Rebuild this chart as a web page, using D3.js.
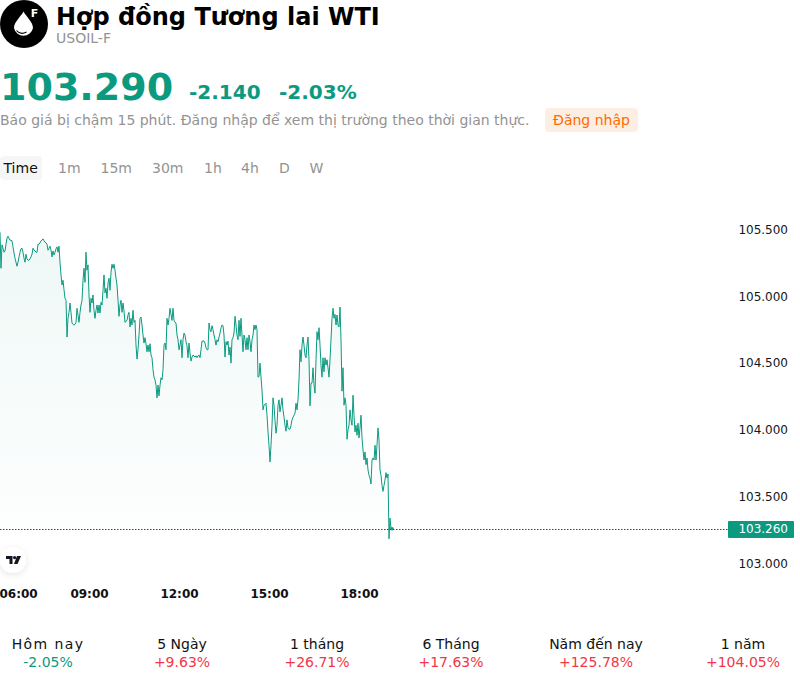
<!DOCTYPE html>
<html lang="vi"><head><meta charset="utf-8">
<style>html,body{margin:0;padding:0;background:#fff}svg{display:block;font-family:"DejaVu Sans",sans-serif}</style>
<script src="https://cdn.jsdelivr.net/npm/d3@7/dist/d3.min.js"></script></head><body>
<script>
const title="Hợp đồng Tương lai WTI", symbol="USOIL-F";
const lastPrice="103.290", changeAbs="-2.140", changePct="-2.03%";
const notice="Báo giá bị chậm 15 phút. Đăng nhập để xem thị trường theo thời gian thực.", loginLabel="Đăng nhập";
const tabs=["Time","1m","15m","30m","1h","4h","D","W"];
const tabX=[3.5,58,100.5,152,204,241,279,309.5];
const priceTicks=[103,103.5,104,104.5,105,105.5];
const timeTicks=[360,540,720,900,1080];
const currentPrice=103.26;
const perfLabels=["Hôm nay","5 Ngày","1 tháng","6 Tháng","Năm đến nay","1 năm"];
const perfValues=["-2.05%","+9.63%","+26.71%","+17.63%","+125.78%","+104.05%"];
const perfCenters=[48,182,317,451,596,743];
const startMinute=362, stepMinutes=2;
const prices=[105.48,105.21,105.385,105.36,105.33,105.34,105.39,105.435,105.45,105.435,105.42,105.42,105.415,105.37,105.325,105.285,105.255,105.225,105.255,105.295,
105.33,105.355,105.36,105.33,105.285,105.255,105.315,105.28,105.27,105.27,105.28,105.295,105.315,105.36,105.345,105.34,105.33,105.33,105.39,105.39,
105.4,105.415,105.42,105.43,105.415,105.405,105.4,105.39,105.345,105.36,105.375,105.345,105.295,105.34,105.31,105.33,105.355,105.37,105.33,105.375,
105.255,105.16,105.085,105.12,105.05,104.985,104.97,104.695,104.835,104.88,104.95,104.88,104.8,104.79,104.785,104.79,104.805,104.91,104.86,104.805,
104.88,104.935,104.97,105.12,105.21,105.105,105.33,105.195,105.235,105.01,104.88,104.985,104.95,105.01,104.895,104.835,104.895,104.935,104.875,104.935,
104.875,104.955,104.935,105.045,105.16,105.025,105.06,104.985,105.1,105.135,105.045,105.18,105.24,105.21,105.24,105.195,105.135,105.085,104.97,104.85,
104.935,104.97,104.88,104.95,104.89,104.805,104.815,104.82,104.86,104.88,104.77,104.835,104.785,104.895,104.805,104.82,104.635,104.53,104.6,104.71,
104.835,104.845,104.785,104.71,104.65,104.69,104.645,104.585,104.635,104.585,104.645,104.56,104.54,104.45,104.395,104.375,104.335,104.24,104.335,104.255,
104.335,104.39,104.375,104.45,104.635,104.65,104.6,104.835,104.785,104.835,104.91,104.865,104.82,104.91,104.82,104.805,104.8,104.71,104.675,104.6,
104.635,104.675,104.54,104.675,104.725,104.71,104.66,104.63,104.54,104.65,104.575,104.515,104.545,104.56,104.555,104.545,104.555,104.54,104.555,104.56,
104.54,104.6,104.665,104.665,104.665,104.65,104.615,104.6,104.6,104.8,104.75,104.735,104.78,104.75,104.71,104.675,104.635,104.675,104.66,104.695,
104.725,104.765,104.785,104.78,104.71,104.545,104.66,104.635,104.665,104.56,104.62,104.5,104.675,104.69,104.725,104.85,104.785,104.71,104.675,104.82,
104.7,104.835,104.71,104.585,104.71,104.675,104.6,104.69,104.6,104.71,104.66,104.585,104.675,104.71,104.785,104.75,104.785,104.75,104.395,104.4,
104.5,104.395,104.3,104.15,104.185,104.19,104.2,104.11,103.985,103.885,103.76,103.885,104.035,104.24,104.185,104.07,103.975,104.035,104.185,104.225,
104.135,104.185,104.24,104.15,104.095,104.035,103.99,104.075,104.015,104.005,104.005,104.035,104.075,104.095,104.11,104.125,104.2,104.15,104.225,104.375,
104.6,104.51,104.635,104.695,104.635,104.56,104.54,104.635,104.695,104.525,104.18,104.35,104.35,104.465,104.335,104.275,104.525,104.735,104.675,104.765,
104.635,104.485,104.395,104.54,104.435,104.54,104.485,104.525,104.465,104.395,104.525,104.675,104.835,104.91,104.835,104.865,104.785,104.86,104.785,104.77,
104.92,104.675,104.29,104.465,104.185,104.24,104.185,103.93,104,104.035,104.15,104.075,104.035,104.26,104.11,103.985,104.035,103.96,104.05,103.94,
104.015,104.11,103.94,103.85,103.775,103.835,103.74,103.79,103.7,103.66,103.64,103.595,103.775,103.79,103.775,103.885,103.775,103.885,104.015,103.925,
103.7,103.66,103.585,103.54,103.585,103.625,103.68,103.64,103.67,103.185,103.34,103.26,103.26];

const FONT='"DejaVu Sans",sans-serif';
const GREEN="#0b9a80", RED="#f23645", GREY="#939393", INK="#131722";
const svg=d3.select("body").append("svg").attr("width",800).attr("height",682);
const x=d3.scaleLinear().domain([360,540]).range([-1,89]);
const y=d3.scaleLinear().domain([103,105.5]).range([563.5,229.5]);
const points=prices.map((p,i)=>({m:startMinute+i*stepMinutes,p}));

// Header
const logo=svg.append("g");
logo.append("circle").attr("cx",24).attr("cy",24).attr("r",24).attr("fill","#000");
logo.append("path").attr("fill","#fff").attr("d","M23.5 11.5C21 16.5 14 22 14 28A9.7 9.7 0 0 0 33 28C33 22 26 16.5 23.5 11.5Z");
logo.append("path").attr("fill","none").attr("stroke","#000").attr("stroke-width",1.1).attr("d","M16.5 30.5C19 33.5 23 34 26.5 32");
logo.append("text").attr("x",34.5).attr("y",17).attr("text-anchor","middle").attr("font-size",11).attr("font-weight",700).attr("fill","#fff").text("F");
svg.append("text").attr("x",56).attr("y",24.5).attr("font-size",24).attr("font-weight",700).attr("fill","#000").text(title);
svg.append("text").attr("x",56).attr("y",43).attr("font-size",14).attr("fill",GREY).text(symbol);
svg.append("text").attr("x",0).attr("y",100).attr("font-size",38).attr("font-weight",700).attr("fill",GREEN).text(lastPrice);
svg.append("text").attr("x",189).attr("y",99).attr("font-size",20).attr("font-weight",700).attr("fill",GREEN).text(changeAbs);
svg.append("text").attr("x",279).attr("y",99).attr("font-size",20).attr("font-weight",700).attr("fill",GREEN).text(changePct);
svg.append("text").attr("x",0).attr("y",125).attr("font-size",14).attr("fill",GREY).text(notice);
svg.append("rect").attr("x",545).attr("y",108).attr("width",93).attr("height",24).attr("rx",4).attr("fill","#fdeee3");
svg.append("text").attr("x",591.5).attr("y",125).attr("text-anchor","middle").attr("font-size",14).attr("fill","#ff6a00").text(loginLabel);

// Interval tabs
svg.append("rect").attr("x",0).attr("y",156).attr("width",42).attr("height",24).attr("rx",4).attr("fill","#f6f6f6");
svg.selectAll("text.tab").data(tabs).join("text").attr("class","tab")
  .attr("x",(d,i)=>tabX[i]).attr("y",173).attr("font-size",14)
  .attr("fill",(d,i)=>i===0?"#111":GREY).text(d=>d);

// Area and line
const grad=svg.append("defs").append("linearGradient").attr("id","fade")
  .attr("gradientUnits","userSpaceOnUse").attr("x1",0).attr("x2",0).attr("y1",y(105.5)).attr("y2",560);
grad.append("stop").attr("offset",0).attr("stop-color",GREEN).attr("stop-opacity",0.07);
grad.append("stop").attr("offset",1).attr("stop-color",GREEN).attr("stop-opacity",0);
svg.append("path").datum(points).attr("fill","url(#fade)")
  .attr("d",d3.area().x(d=>x(d.m)).y0(560).y1(d=>y(d.p)));
svg.append("path").datum(points).attr("fill","none").attr("stroke",GREEN).attr("stroke-width",1)
  .attr("stroke-linejoin","round").attr("d",d3.line().x(d=>x(d.m)).y(d=>y(d.p)));

// Current price line and tag
svg.append("line").attr("x1",0).attr("x2",728).attr("y1",Math.round(y(currentPrice))+.5).attr("y2",Math.round(y(currentPrice))+.5)
  .attr("stroke","#14564a").attr("stroke-width",1).attr("stroke-dasharray","1.5 1.5");
svg.append("circle").attr("cx",x(startMinute+(prices.length-1)*stepMinutes)).attr("cy",y(prices[prices.length-1])).attr("r",1.8).attr("fill",GREEN);
svg.append("rect").attr("x",728).attr("y",Math.round(y(currentPrice))-8).attr("width",66).attr("height",17).attr("rx",1).attr("fill",GREEN);
svg.append("text").attr("x",788).attr("y",y(currentPrice)+4.5).attr("text-anchor","end").attr("font-size",12).attr("fill","#fff").text(currentPrice.toFixed(3));

// Axes
const yAxis=svg.append("g").attr("transform","translate(788,0)")
  .call(d3.axisLeft(y).tickValues(priceTicks).tickSize(0).tickPadding(0).tickFormat(d3.format(".3f")));
yAxis.select(".domain").remove();
yAxis.attr("font-family",FONT).attr("font-size",12);
yAxis.selectAll("text").attr("fill",INK);
const fmt=m=>String(Math.floor(m/60)).padStart(2,"0")+":"+String(m%60).padStart(2,"0");
const xAxis=svg.append("g").attr("transform","translate(0,583)")
  .call(d3.axisBottom(x).tickValues(timeTicks).tickSize(0).tickPadding(6).tickFormat(fmt));
xAxis.select(".domain").remove();
xAxis.attr("font-family",FONT).attr("font-size",12);
xAxis.selectAll("text").attr("font-weight",700).attr("fill","#111");
xAxis.selectAll("text").filter(d=>d===360).attr("text-anchor","start").attr("x",0);

// TradingView badge
const f=svg.select("defs").append("filter").attr("id","soft").attr("x","-50%").attr("y","-50%").attr("width","200%").attr("height","200%");
f.append("feDropShadow").attr("dx",0).attr("dy",2).attr("stdDeviation",3).attr("flood-color","#000").attr("flood-opacity",.1);
svg.append("circle").attr("cx",13).attr("cy",560).attr("r",13).attr("fill","#fff").attr("filter","url(#soft)");
svg.append("path").attr("fill",INK).attr("d","M6 556H12.5V564H9.5V559H6ZM17 556H21L17.5 564H14Z");
svg.append("circle").attr("cx",14.6).attr("cy",557.6).attr("r",1.6).attr("fill",INK);

// Performance row
svg.selectAll("text.pl").data(perfLabels).join("text").attr("class","pl")
  .attr("x",(d,i)=>perfCenters[i]).attr("y",649).attr("text-anchor","middle").attr("font-size",14).attr("fill","#111")
  .attr("letter-spacing",(d,i)=>i===0?1.4:null).text(d=>d);
svg.selectAll("text.pv").data(perfValues).join("text").attr("class","pv")
  .attr("x",(d,i)=>perfCenters[i]).attr("y",667).attr("text-anchor","middle").attr("font-size",14)
  .attr("fill",d=>d[0]==="-"?GREEN:RED).text(d=>d);
</script></body></html>
